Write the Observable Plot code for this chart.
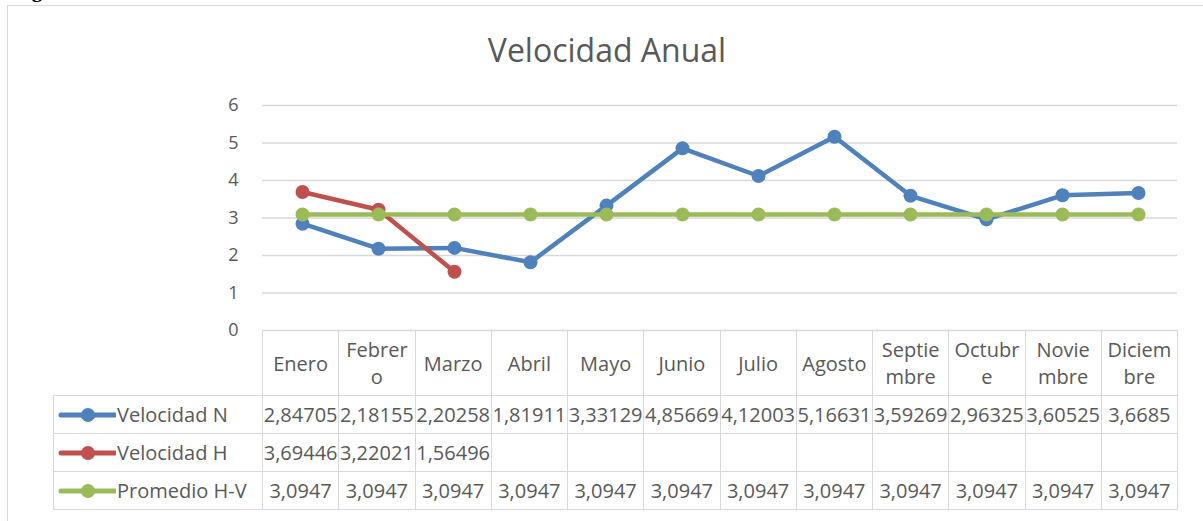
<!DOCTYPE html>
<html>
<head>
<meta charset="utf-8">
<script src="https://cdn.jsdelivr.net/npm/d3@7"></script>
<script src="https://cdn.jsdelivr.net/npm/@observablehq/plot@0.6"></script>
<style>
  body { margin: 0; background: #fff; }
  #wrap { position: relative; width: 1203px; height: 521px; overflow: hidden; font-family: "Open Sans", sans-serif; background: #fff; }
  #frame { position: absolute; left: 7px; top: 5px; width: 1400px; height: 700px; border-left: 1.5px solid #d9d9d9; border-top: 1.5px solid #d9d9d9; }
  #fig { position: absolute; left: 13px; top: -22px; font: bold 21px "Liberation Serif", serif; color: #000; }
  #title { position: absolute; left: 7px; width: 1200px; top: 30px; text-align: center; font-size: 32px; line-height: 40px; color: #595959; }
  #chart { position: absolute; left: 0; top: 0; }
  #tbl { position: absolute; left: 53px; top: 330px; width: 1124px; border-collapse: collapse; table-layout: fixed; color: #595959; font-size: 20px; }
  #tbl td { border: 1.5px solid #d9d9d9; padding: 0; text-align: center; white-space: nowrap; overflow: visible; }
  #tbl tr.head td { height: 64px; line-height: 27px; vertical-align: middle; }
  #tbl tr.head td.blank { border-top: none; border-left: none; }
  #tbl tr.row td { height: 37px; line-height: 37px; }
  #tbl td.lab { text-align: left; }
  #tbl td.lab svg { vertical-align: middle; margin-left: 4px; margin-right: 1px; position: relative; top: -2px; }
</style>
</head>
<body>
<div id="wrap">
  <div id="fig">Figura</div>
  <div id="frame"></div>
  <div id="chart"></div>
  <div id="title">Velocidad Anual</div>
  <table id="tbl"></table>
</div>
<script>
// ---- data ----
const months = ["Enero","Febrero","Marzo","Abril","Mayo","Junio","Julio","Agosto","Septiembre","Octubre","Noviembre","Diciembre"];
const monthLabels = ["Enero","Febrer\no","Marzo","Abril","Mayo","Junio","Julio","Agosto","Septie\nmbre","Octubr\ne","Novie\nmbre","Diciem\nbre"];
const velocidadN = [2.84705, 2.18155, 2.20258, 1.81911, 3.33129, 4.85669, 4.12003, 5.16631, 3.59269, 2.96325, 3.60525, 3.6685];
const velocidadH = [3.69446, 3.22021, 1.56496, null, null, null, null, null, null, null, null, null];
const promedioHV = [3.0947, 3.0947, 3.0947, 3.0947, 3.0947, 3.0947, 3.0947, 3.0947, 3.0947, 3.0947, 3.0947, 3.0947];
const seriesNames = ["Velocidad N", "Velocidad H", "Promedio H-V"];
const seriesColors = ["#4F81BD", "#C0504D", "#9BBB59"];
const yTicks = [0, 1, 2, 3, 4, 5, 6];

const seriesValues = [velocidadN, velocidadH, promedioHV];
const rows = seriesNames.map((name, k) => seriesValues[k].map((v, i) => ({series: name, month: months[i], value: v})).filter(d => d.value != null));

const chart = Plot.plot({
  width: 1203,
  height: 521,
  marginLeft: 262,
  marginRight: 26,
  marginTop: 105,
  marginBottom: 191,
  style: {fontFamily: "Open Sans", background: "transparent"},
  x: {type: "point", domain: months, padding: 0.5, axis: null},
  y: {domain: [0, 6]},
  color: {domain: seriesNames, range: seriesColors},
  marks: [
    Plot.gridY(yTicks, {stroke: "#d9d9d9", strokeOpacity: 1, strokeWidth: 1.5}),
    Plot.axisY(yTicks, {tickSize: 0, tickPadding: 24, fontSize: 18, fill: "#595959", label: null}),
    ...rows.flatMap(r => [
      Plot.line(r, {x: "month", y: "value", stroke: "series", strokeWidth: 4.5, strokeLinejoin: "round"}),
      Plot.dot(r, {x: "month", y: "value", fill: "series", r: 7})
    ])
  ]
});
document.getElementById("chart").appendChild(chart);

// ---- data table (Excel style) ----
const tbl = d3.select("#tbl");
const cg = tbl.append("colgroup");
cg.append("col").style("width", "209px");
months.forEach(() => cg.append("col").style("width", "76.25px"));
const head = tbl.append("tr").attr("class", "head");
head.append("td").attr("class", "blank");
monthLabels.forEach(l => head.append("td").html(l.split("\n").join("<br>")));
const fmt = v => v == null ? "" : String(v).replace(".", ",");
seriesNames.forEach((name, k) => {
  const tr = tbl.append("tr").attr("class", "row");
  const c = seriesColors[k];
  tr.append("td").attr("class", "lab").html(
    `<svg width="58" height="16"><line x1="3" y1="8" x2="57" y2="8" stroke="${c}" stroke-width="5" stroke-linecap="round"/><circle cx="30" cy="8" r="7" fill="${c}"/></svg>${name}`);
  seriesValues[k].forEach(v => tr.append("td").text(fmt(v)));
});
</script>
</body>
</html>
